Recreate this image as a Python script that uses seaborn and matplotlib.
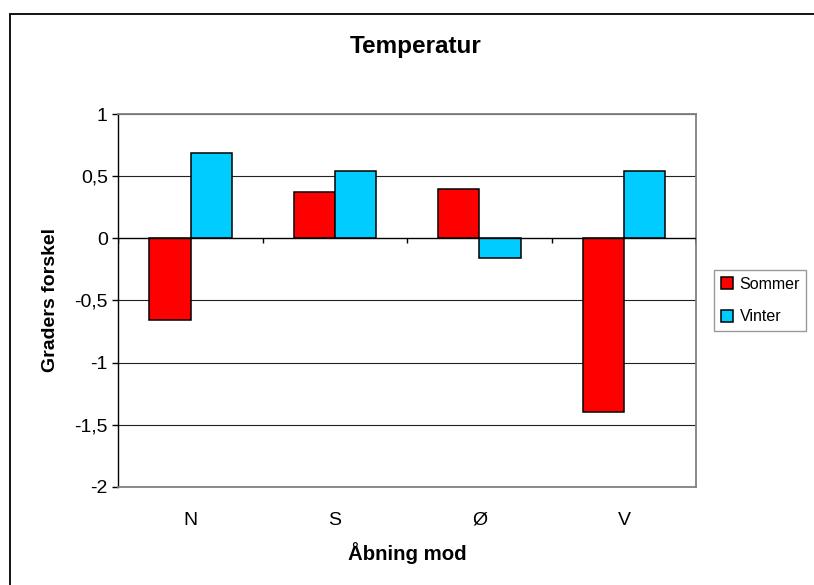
import pandas as pd
import numpy as np
import matplotlib
matplotlib.use('Agg')
import matplotlib.pyplot as plt
import seaborn as sns
from matplotlib.patches import Rectangle

# Data
retning = ['N', 'S', 'Ø', 'V']
sommer = [-0.66, 0.37, 0.40, -1.40]
vinter = [0.69, 0.545, -0.155, 0.545]
yticks = [1, 0.5, 0, -0.5, -1, -1.5, -2]
ytick_labels = ['1', '0,5', '0', '-0,5', '-1', '-1,5', '-2']

df = pd.DataFrame({
    'Retning': retning * 2,
    'Grader': sommer + vinter,
    'Periode': ['Sommer'] * len(retning) + ['Vinter'] * len(retning),
})

sns.set_style("white")
plt.rcParams['font.family'] = ['Liberation Sans', 'DejaVu Sans']
plt.rcParams['text.color'] = 'black'
plt.rcParams['axes.labelcolor'] = 'black'
plt.rcParams['xtick.color'] = 'black'
plt.rcParams['ytick.color'] = 'black'

fig = plt.figure(figsize=(8.14, 5.85), dpi=100)
ax = fig.add_axes([0.1453, 0.168, 0.710, 0.637])

# Excel-style grid lines behind the bars
for y in yticks:
    if y != 0:
        ax.axhline(y, color='#222222', lw=0.8, zorder=0)

sns.barplot(data=df, x='Retning', y='Grader', hue='Periode', order=retning,
            palette={'Sommer': '#FF0000', 'Vinter': '#00CCFF'},
            width=2 / 3.5, saturation=1, edgecolor='black', linewidth=1.1,
            ax=ax, zorder=2)

# category axis at zero with ticks between categories
ax.axhline(0, color='black', lw=1.0, zorder=3)
bounds = np.arange(len(retning) + 1) - 0.5
ax.vlines(bounds, -0.04, 0, color='black', lw=1.0, zorder=3)

ax.set_xlim(-0.5, len(retning) - 0.5)
ax.set_ylim(-2, 1)
ax.set_yticks(yticks)
ax.set_yticklabels(ytick_labels)
ax.tick_params(axis='y', labelsize=14, length=4.5, width=1,
               left=True, direction='out', pad=3)
ax.tick_params(axis='x', labelsize=14, length=0, pad=18)

for side in ['top', 'right', 'bottom']:
    ax.spines[side].set_color('#808080')
    ax.spines[side].set_linewidth(1.3)
ax.spines['left'].set_color('black')
ax.spines['left'].set_linewidth(1.0)

ax.set_xlabel('Åbning mod', fontsize=14.7, fontweight='bold')
ax.set_ylabel('Graders forskel', fontsize=14, fontweight='bold')
ax.xaxis.set_label_coords(0.5, -0.148)
ax.yaxis.set_label_coords(-0.102, 0.5)

fig.text(416 / 814, 1 - 47 / 585, 'Temperatur', fontsize=17.5,
         fontweight='bold', ha='center', va='center')

leg = ax.legend(loc='center left', bbox_to_anchor=(1.031, 0.5), fontsize=11.5,
                frameon=True, fancybox=False, edgecolor='#808080',
                handlelength=0.8, handleheight=0.8, handletextpad=0.4,
                borderpad=0.4, labelspacing=1.1, borderaxespad=0)
leg.get_frame().set_linewidth(1.0)

# outer chart border
fig.patches.append(Rectangle((9.5 / 814, -0.05), 1.05, 1 - 14 / 585 + 0.05,
                             transform=fig.transFigure, fill=False,
                             edgecolor='black', lw=1.3))

fig.savefig('out.png', dpi=100)
